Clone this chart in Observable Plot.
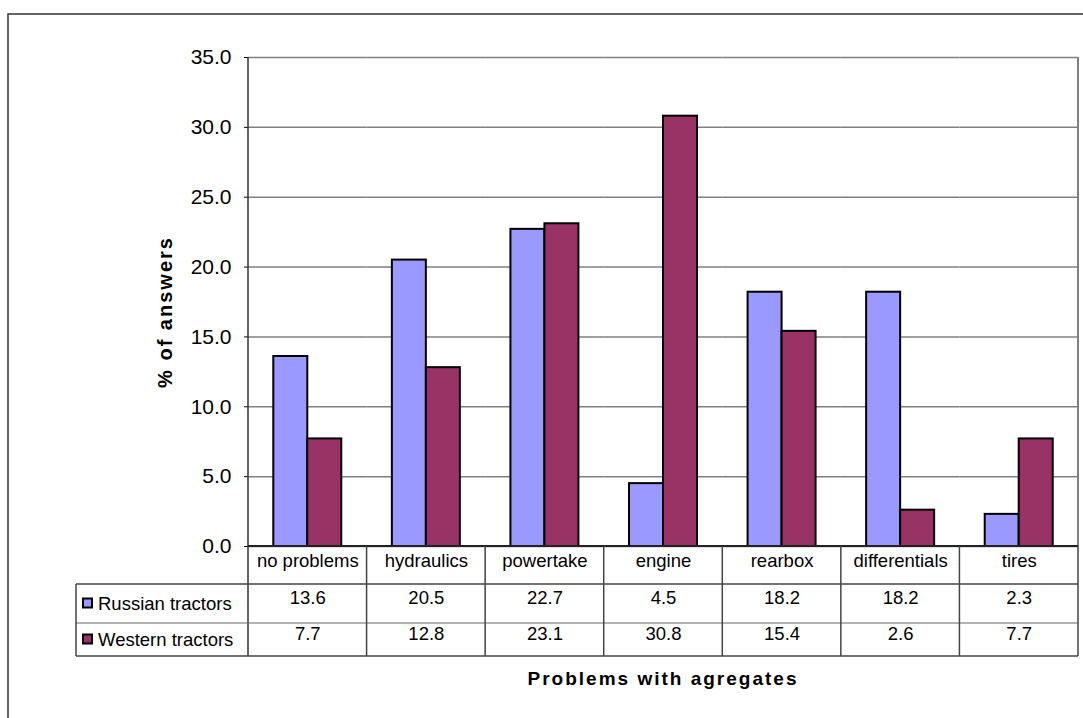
<!DOCTYPE html>
<html>
<head>
<meta charset="utf-8">
<script src="https://cdn.jsdelivr.net/npm/d3@7"></script>
<script src="https://cdn.jsdelivr.net/npm/@observablehq/plot@0.6"></script>
<style>
  body { margin: 0; background: #fff; }
  #chart svg { display: block; }
</style>
</head>
<body>
<div id="chart"></div>
<script>
// Survey: which aggregates cause problems, Russian vs Western tractors (% of answers)
const categories = ["no problems", "hydraulics", "powertake", "engine", "rearbox", "differentials", "tires"];
const seriesNames = ["Russian tractors", "Western tractors"];
const russianValues = [13.6, 20.5, 22.7, 4.5, 18.2, 18.2, 2.3];
const westernValues = [7.7, 12.8, 23.1, 30.8, 15.4, 2.6, 7.7];
const seriesColors = ["#9999FF", "#993366"];
const yTicks = [0, 5, 10, 15, 20, 25, 30, 35];
const yTitle = "% of answers";
const xTitle = "Problems with agregates";

// Long-form table for the grouped bars
const rows = categories.flatMap((c, i) => [
  {category: c, series: seriesNames[0], value: russianValues[i]},
  {category: c, series: seriesNames[1], value: westernValues[i]}
]);

const font = "'Liberation Sans', Arial, Helvetica, sans-serif";
const tableFont = 18.5;
const fmt = d => d.toFixed(1);

const plot = Plot.plot({
  width: 1083,
  height: 718,
  marginLeft: 248,
  marginRight: 5,
  marginTop: 57,
  marginBottom: 172,
  style: {fontFamily: font, fontSize: "21px", color: "#000", background: "#fff", overflow: "visible"},
  facet: {data: rows, x: "category"},
  fx: {domain: categories, paddingInner: 0, paddingOuter: 0, round: false, axis: null, label: null},
  x: {domain: seriesNames, paddingInner: 0, paddingOuter: 0.744, round: false, axis: null, label: null},
  y: {domain: [0, 35], ticks: yTicks, tickFormat: fmt, tickSize: 4, tickPadding: 13, label: null},
  color: {domain: seriesNames, range: seriesColors},
  marks: [
    // horizontal gridlines (repeated in every category panel)
    Plot.ruleY(yTicks, {y: d => d, stroke: "#808080", strokeWidth: 1.5}),
    Plot.barY(rows, {x: "series", y: "value", fill: "series", stroke: "#000", strokeWidth: 2}),
    // data table: category row, then one row per series
    Plot.text(rows, {filter: d => d.series === seriesNames[0], text: "category",
      frameAnchor: "bottom", dy: 20, fontSize: tableFont}),
    Plot.text(rows, {filter: d => d.series === seriesNames[0], text: d => fmt(d.value),
      frameAnchor: "bottom", dy: 57, fontSize: tableFont}),
    Plot.text(rows, {filter: d => d.series === seriesNames[1], text: d => fmt(d.value),
      frameAnchor: "bottom", dy: 93, fontSize: tableFont})
  ]
});

document.getElementById("chart").append(plot);

// Table grid, legend keys and titles, placed with the plot's own scales
const svg = d3.select(plot);
const fxDesc = plot.scale("fx");
const yDesc = plot.scale("y");
const fx = d3.scaleBand(fxDesc.domain, fxDesc.range).paddingInner(0).paddingOuter(0);
const y = d3.scaleLinear(yDesc.domain, yDesc.range);

const plotLeft = fxDesc.range[0];
const plotRight = fxDesc.range[1];
const plotBase = y(0);
const plotTop = y(35);
const catRowBottom = plotBase + 38;
const midRow = plotBase + 77;
const tableBottom = plotBase + 110;
const tableLeft = 76;

const g = svg.append("g").attr("text-anchor", "start");
const line = (x1, y1, x2, y2, stroke, w) =>
  g.append("line").attr("x1", x1).attr("y1", y1).attr("x2", x2).attr("y2", y2)
    .attr("stroke", stroke).attr("stroke-width", w);

// plot area right border
line(plotRight, plotTop, plotRight, plotBase, "#808080", 2);
// value axis line, continued down through the table
line(plotLeft, plotTop, plotLeft, tableBottom, "#333", 1.5);
// category axis
line(plotLeft, plotBase, plotRight, plotBase, "#222", 2);
line(plotRight, plotBase, plotRight, tableBottom, "#444", 1.5);
// table rows
line(tableLeft, catRowBottom, plotRight, catRowBottom, "#444", 1.5);
line(tableLeft, midRow, plotRight, midRow, "#666", 1);
line(tableLeft, tableBottom, plotRight, tableBottom, "#444", 1.5);
line(tableLeft, catRowBottom, tableLeft, tableBottom, "#444", 1.5);
// column separators
categories.slice(1).forEach(c => line(fx(c), plotBase, fx(c), tableBottom, "#444", 1.5));

// legend keys in the table
seriesNames.forEach((name, i) => {
  const cy = i === 0 ? (catRowBottom + midRow) / 2 : (midRow + tableBottom) / 2;
  g.append("rect").attr("x", 83).attr("y", cy - 5).attr("width", 9).attr("height", 9)
    .attr("fill", seriesColors[i]).attr("stroke", "#000").attr("stroke-width", 2);
  g.append("text").attr("x", 98).attr("y", cy).attr("dy", "0.35em")
    .attr("text-anchor", "start")
    .attr("font-size", tableFont).attr("fill", "#000").text(name);
});

// axis titles
g.append("text")
  .attr("transform", `translate(172,312) rotate(-90)`)
  .attr("text-anchor", "middle")
  .attr("font-size", 20).attr("font-weight", "bold").attr("letter-spacing", 2)
  .attr("fill", "#000")
  .text(yTitle);
g.append("text")
  .attr("x", (plotLeft + plotRight) / 2).attr("y", 685)
  .attr("text-anchor", "middle")
  .attr("font-size", 19).attr("font-weight", "bold").attr("letter-spacing", 2)
  .attr("fill", "#000")
  .text(xTitle);

// chart area border
g.append("rect").attr("x", 8).attr("y", 14).attr("width", 1200).attr("height", 900)
  .attr("fill", "none").attr("stroke", "#333").attr("stroke-width", 1.5);
</script>
</body>
</html>
